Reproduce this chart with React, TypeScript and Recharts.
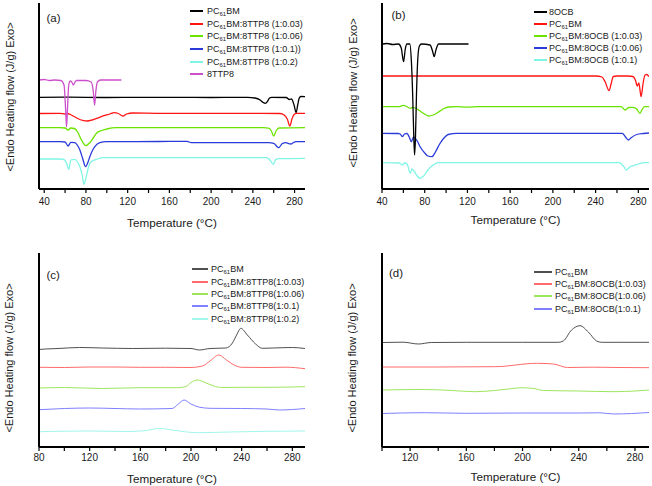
import React from 'react';
import { LineChart, Line, XAxis, YAxis, Legend } from 'recharts';

type Pt = [number, number];

const FONT = '"Liberation Sans", Arial, sans-serif';

// x ticks (every 20 °C, labels only on the 40 °C steps)
const ticksA = [40, 60, 80, 100, 120, 140, 160, 180, 200, 220, 240, 260, 280];
const labelsA = [40, 80, 120, 160, 200, 240, 280];
const ticksC = [80, 100, 120, 140, 160, 180, 200, 220, 240, 260, 280];
const labelsC = [80, 120, 160, 200, 240, 280];
const ticksD = [100, 120, 140, 160, 180, 200, 220, 240, 260, 280];
const labelsD = [120, 160, 200, 240, 280];

// (a) PC61BM : 8TTP8 heating scans, offset traces (arb. units)
const a8ttp8: Pt[] = [[35, 109], [40, 109.5], [45, 108.5], [50, 109], [56, 108.5], [59, 104], [60.5, 80], [61.4, 62], [62.3, 80], [63.5, 104], [65, 108], [67, 106], [68, 104], [69.5, 107], [71, 108.5], [80, 108.5], [85, 107], [87, 98], [88.3, 84], [89.5, 98], [91, 107], [94, 109], [114, 109]];
const aPcbm: Pt[] = [[35, 91.7], [60, 91.8], [100, 91.5], [150, 91.7], [200, 91.5], [235, 91.7], [242, 91], [247, 89], [250, 86.5], [252, 85.7], [254, 87.5], [256, 91], [258, 91.7], [272, 91.5], [275, 89.5], [277, 90], [279.5, 84], [281.5, 76.3], [283, 84], [284.5, 91], [286, 92.5], [290, 92.3]];
const aTtp003: Pt[] = [[35, 75.5], [55, 75.7], [60, 75], [62, 75.5], [66, 74], [72, 70.5], [78, 68.3], [81, 68], [86, 69], [93, 71.7], [99, 73.8], [103, 75], [107, 76.3], [111, 75.5], [115.5, 73], [119, 75], [125, 76], [150, 75.7], [200, 75.7], [250, 75.7], [266, 75.5], [270, 74], [273, 70], [275.5, 63], [277.5, 70], [279.5, 74.5], [282, 75.7], [290, 75.7]];
const aTtp006: Pt[] = [[35, 61.3], [55, 61.3], [60, 61], [62.9, 59], [65.5, 61], [69, 60.5], [72, 57], [75.7, 49], [79.9, 43.3], [83.7, 46.3], [87, 51], [90.1, 55.7], [95, 58.5], [100, 60], [109, 61.3], [150, 61.3], [200, 61.3], [250, 61.3], [255, 60.8], [257.5, 58.5], [260, 53], [262.5, 58.5], [265, 61], [290, 61.3]];
const aTtp01: Pt[] = [[35, 47.3], [55, 47.3], [60, 47], [62.9, 43], [65.5, 46.7], [69.4, 46.3], [72, 43.5], [74.2, 39], [77, 30], [79.6, 22.3], [82, 27], [83.7, 32.3], [86, 38], [88.5, 42.3], [93.3, 46.3], [99.7, 47.3], [150, 47.5], [177, 47.7], [181, 46.3], [220, 46.3], [255, 46.3], [260, 45.7], [264.7, 41.3], [268.5, 45.7], [271.7, 46.3], [274, 45.5], [276.5, 45], [279, 46.5], [281.3, 47.3], [290, 47.3]];
const aTtp02: Pt[] = [[35, 30], [55, 30], [59, 29.5], [61.4, 25.7], [63.6, 19.7], [65.5, 29], [69.4, 29.7], [72, 27], [74.2, 22.3], [76.7, 12.3], [78, 4.7], [79.9, 10.7], [82, 20], [83.7, 25.7], [87, 28.5], [90.1, 29.7], [96.5, 31.3], [150, 31.3], [200, 31.3], [252.6, 31.3], [256.4, 29], [259.6, 24.7], [262.1, 29.7], [265.3, 30.3], [290, 30.7]];

// (b) PC61BM : 8OCB
const b8ocb: Pt[] = [[40, 145], [45, 145.5], [50, 144.5], [55.5, 145], [58, 141], [60.2, 127.3], [61.8, 140], [63.4, 145], [66, 145], [67.5, 128], [68.7, 95], [69.7, 55], [70.5, 34], [71.3, 50], [72.3, 95], [73.5, 130], [75, 143], [77, 145], [85, 144], [87.3, 138], [88.9, 132.3], [90.5, 139], [93, 145], [121, 145]];
const bPcbm: Pt[] = [[40, 113], [100, 113], [150, 113], [200, 113], [240, 113], [246, 112], [249, 107], [252.6, 98.3], [254.5, 105], [256.6, 112.5], [260, 113], [270, 113], [275, 112.5], [277.5, 108], [279, 103], [280.5, 106], [282.6, 92.3], [284.5, 106], [286.3, 114], [288, 114.5], [290, 112.5]];
const bOcb003: Pt[] = [[40, 82.3], [55.5, 82.3], [58, 83], [60.2, 83.7], [63, 82.5], [66.5, 80.7], [68.5, 81.5], [71, 81], [75, 78.5], [79, 75.5], [83.6, 73], [88, 74], [93, 77], [98, 80.5], [102.3, 82], [110, 82.3], [120, 81.8], [130, 82.3], [200, 82.3], [264, 82.3], [267.6, 79], [271, 81.5], [275, 81.7], [278.5, 80], [281.5, 75.7], [283.5, 79.5], [286, 82.3], [290, 82.3]];
const bOcb006: Pt[] = [[40, 55.7], [55, 55.5], [57, 55], [59.3, 52.3], [61, 55], [63.4, 55.5], [65.5, 52], [67.5, 47.3], [69.5, 52], [71.5, 50], [73, 48], [75.8, 42], [80, 36], [83, 33], [86.8, 32.3], [90, 37], [94, 45], [98, 51], [102, 54.5], [110, 55.7], [200, 55.7], [265, 55.7], [268, 52], [270.7, 49], [273, 51], [278.5, 54.5], [285, 55.5], [290, 56]];
const bOcb01: Pt[] = [[40, 26.3], [56, 26], [59.3, 24], [61, 26], [63.5, 25], [66.5, 15.7], [68, 20], [70, 18], [73, 13], [75.8, 10.7], [79, 13], [83, 19], [88, 24], [93, 26.3], [150, 26.3], [262, 26.3], [266, 23], [268.8, 19], [272, 22], [276, 23.5], [280, 25], [286, 26.3], [290, 26.3]];

// (c) PC61BM : 8TTP8, cooling
const cPcbm: Pt[] = [[80, 97.5], [85, 98], [95, 98.5], [112, 99.5], [130, 99], [154, 98.5], [180, 98.8], [200, 98.5], [206.5, 97], [215, 98.5], [227.5, 99], [232.7, 104], [236, 112], [239.3, 118.7], [244.5, 112], [251, 103], [256.3, 98.7], [265, 99], [280, 99.5], [290, 98.5]];
const cTtp003: Pt[] = [[80, 79.7], [100, 79.5], [120, 80], [140, 80], [160, 79.7], [180, 79.7], [200, 79.5], [209, 81], [215, 86], [222, 92], [228, 87], [234, 82], [240, 79.7], [260, 79.5], [275, 79.8], [290, 78.3]];
const cTtp006: Pt[] = [[80, 59], [100, 59.5], [130, 58.5], [160, 59.3], [190, 59.3], [196, 60.5], [200, 64.5], [205, 67], [212, 64], [218, 61], [224, 59.5], [240, 59.7], [260, 59.7], [290, 60.3]];
const cTtp01: Pt[] = [[80, 37.3], [100, 38.5], [120, 39], [140, 38.5], [160, 38], [185, 38.5], [190, 43], [194.5, 47], [200, 43], [206, 40], [215, 38.7], [240, 38.5], [260, 38], [270, 37], [290, 38.5]];
const cTtp02: Pt[] = [[80, 13.5], [81, 15.3], [100, 15.8], [120, 16], [150, 15.5], [165, 16.5], [175, 18.7], [185, 17], [195, 15.3], [205, 14.3], [230, 15], [260, 15.7], [290, 16]];

// (d) PC61BM : 8OCB, cooling
const dPcbm: Pt[] = [[100, 104.5], [115, 104.8], [126, 103], [135, 104.5], [160, 104.7], [200, 104.7], [225.5, 104.7], [229, 106], [234.9, 117], [240.9, 121.3], [246.8, 115], [252.7, 106], [256.3, 104.7], [270, 104.7], [290, 104.7]];
const dOcb003: Pt[] = [[100, 80], [140, 80], [180, 80.3], [188, 80.8], [195, 82], [210, 83.7], [222, 83], [232, 79.5], [250, 79.8], [270, 79.5], [290, 79.3]];
const dOcb006: Pt[] = [[100, 57], [130, 57.5], [150, 56.5], [166, 55.3], [180, 56.5], [190, 58], [199, 59.3], [208, 58.5], [215, 56.5], [240, 56], [265, 55.3], [280, 56], [290, 57]];
const dOcb01: Pt[] = [[100, 33.5], [130, 34.3], [160, 33.7], [200, 34], [240, 34], [255, 34.2], [265, 33], [290, 34.5]];

interface Series {
  label: string;
  color: string;
  data: Pt[];
}

interface PanelProps {
  left: number;
  top: number;
  width: number;
  height: number;
  marginTop: number;
  marginRight: number;
  yAxisWidth: number;
  xAxisHeight: number;
  xDomain: [number, number];
  ticks: number[];
  labels: number[];
  yMax: number;
  series: Series[];
  legend: Series[];
  legendBox: { left: number; top: number; line: number; gap: number; row: number };
  tag: string;
  tagPos: { left: number; top: number };
  yLabelX: number;
  yLabelDy: number;
  xLabelDy: number;
  tickMargin: number;
  strokeWidth: number;
}

// "PC61BM..." -> PC with subscript 61
function renderName(label: string) {
  if (!label.startsWith('PC61BM')) return label;
  return (
    <>
      PC<span style={{ fontSize: 6, position: 'relative', top: 2 }}>61</span>
      {label.slice(4)}
    </>
  );
}

function Panel(p: PanelProps) {
  const plotW = p.width - p.yAxisWidth - p.marginRight;
  const plotH = p.height - p.marginTop - p.xAxisHeight;
  const frame = { stroke: '#000', strokeWidth: 2 };

  const yTitle = () => {
    const cy = p.marginTop + plotH / 2 + p.yLabelDy;
    return (
      <text
        x={p.yLabelX}
        y={cy}
        transform={`rotate(-90, ${p.yLabelX}, ${cy})`}
        textAnchor="middle"
        dominantBaseline="central"
        fontFamily={FONT}
        fontSize={11}
        fill="#1a1a1a"
      >
        {'<Endo Heating flow (J/g) Exo>'}
      </text>
    );
  };

  const xTitle = () => (
    <text
      x={p.yAxisWidth + plotW / 2}
      y={p.marginTop + plotH + p.xLabelDy}
      textAnchor="middle"
      dominantBaseline="central"
      fontFamily={FONT}
      fontSize={11.7}
      fill="#1a1a1a"
    >
      Temperature (°C)
    </text>
  );

  const legendContent = () => (
    <div style={{ fontFamily: FONT, fontSize: 9, color: '#1a1a1a' }}>
      {p.legend.map((s) => (
        <div
          key={s.label}
          style={{ display: 'flex', alignItems: 'center', height: p.legendBox.row, whiteSpace: 'nowrap' }}
        >
          <div
            style={{
              width: p.legendBox.line,
              height: 2,
              background: s.color,
              marginRight: p.legendBox.gap,
              flexShrink: 0,
            }}
          />
          <span>{renderName(s.label)}</span>
        </div>
      ))}
    </div>
  );

  return (
    <div style={{ position: 'absolute', left: p.left, top: p.top, width: p.width, height: p.height }}>
      <LineChart
        width={p.width}
        height={p.height}
        margin={{ top: p.marginTop, right: p.marginRight, left: 0, bottom: 0 }}
      >
        <XAxis
          dataKey="t"
          type="number"
          domain={p.xDomain}
          allowDataOverflow
          ticks={p.ticks}
          interval={0}
          height={p.xAxisHeight}
          axisLine={frame}
          tickLine={{ stroke: '#000', strokeWidth: 1.2 }}
          tickSize={4}
          tickMargin={p.tickMargin}
          tick={{ fontFamily: FONT, fontSize: 10, fill: '#1a1a1a' }}
          tickFormatter={(v: number) => (p.labels.includes(v) ? String(v) : '')}
          label={xTitle}
        />
        <XAxis
          xAxisId="top"
          orientation="top"
          type="number"
          domain={p.xDomain}
          height={0}
          tick={false}
          tickLine={false}
          axisLine={frame}
        />
        <YAxis
          type="number"
          domain={[0, p.yMax]}
          allowDataOverflow
          width={p.yAxisWidth}
          tick={false}
          tickLine={false}
          axisLine={frame}
          label={yTitle}
        />
        <YAxis
          yAxisId="right"
          orientation="right"
          type="number"
          domain={[0, 1]}
          width={0}
          tick={false}
          tickLine={false}
          axisLine={frame}
        />
        {p.series.map((s) => (
          <Line
            key={s.label}
            name={s.label}
            data={s.data.map(([t, v]) => ({ t, v }))}
            dataKey="v"
            type="monotone"
            stroke={s.color}
            strokeWidth={p.strokeWidth}
            dot={false}
            activeDot={false}
            isAnimationActive={false}
          />
        ))}
        <Legend
          layout="vertical"
          align="center"
          verticalAlign="middle"
          content={legendContent}
          wrapperStyle={{ left: p.legendBox.left, top: p.legendBox.top, width: 'auto', height: 'auto' }}
        />
      </LineChart>
      <span
        style={{
          position: 'absolute',
          left: p.tagPos.left,
          top: p.tagPos.top,
          fontFamily: FONT,
          fontSize: 11.5,
          lineHeight: '12px',
          color: '#1a1a1a',
        }}
      >
        {p.tag}
      </span>
    </div>
  );
}

const seriesA = {
  pcbm: { label: 'PC61BM', color: '#000000', data: aPcbm },
  r003: { label: 'PC61BM:8TTP8 (1:0.03)', color: '#ff1414', data: aTtp003 },
  r006: { label: 'PC61BM:8TTP8 (1:0.06)', color: '#6ae300', data: aTtp006 },
  r01: { label: 'PC61BM:8TTP8 (1:0.1))', color: '#2b3bd9', data: aTtp01 },
  r02: { label: 'PC61BM:8TTP8 (1:0.2)', color: '#80f5e6', data: aTtp02 },
  pure: { label: '8TTP8', color: '#cc50cc', data: a8ttp8 },
};

const seriesB = {
  pure: { label: '8OCB', color: '#000000', data: b8ocb },
  pcbm: { label: 'PC61BM', color: '#ff1414', data: bPcbm },
  r003: { label: 'PC61BM:8OCB (1:0.03)', color: '#6ae300', data: bOcb003 },
  r006: { label: 'PC61BM:8OCB (1:0.06)', color: '#2b3bd9', data: bOcb006 },
  r01: { label: 'PC61BM:8OCB (1:0.1)', color: '#80f5e6', data: bOcb01 },
};

const seriesC = [
  { label: 'PC61BM', color: '#505050', data: cPcbm },
  { label: 'PC61BM:8TTP8(1:0.03)', color: '#ff6a6a', data: cTtp003 },
  { label: 'PC61BM:8TTP8(1:0.06)', color: '#9de65c', data: cTtp006 },
  { label: 'PC61BM:8TTP8(1:0.1)', color: '#7f7fff', data: cTtp01 },
  { label: 'PC61BM:8TTP8(1:0.2)', color: '#a2f6ec', data: cTtp02 },
];

const seriesD = [
  { label: 'PC61BM', color: '#505050', data: dPcbm },
  { label: 'PC61BM:8OCB(1:0.03)', color: '#ff6a6a', data: dOcb003 },
  { label: 'PC61BM:8OCB(1:0.06)', color: '#9de65c', data: dOcb006 },
  { label: 'PC61BM:8OCB(1:0.1)', color: '#7f7fff', data: dOcb01 },
];

export default function App() {
  const A = seriesA;
  const B = seriesB;
  return (
    <div style={{ position: 'absolute', left: 0, top: 0, width: 652, height: 486, background: '#fff' }}>
      <Panel
        left={0} top={0} width={326} height={240}
        marginTop={3} marginRight={21} yAxisWidth={39} xAxisHeight={51}
        xDomain={[35, 290]} ticks={ticksA} labels={labelsA} yMax={186}
        series={[A.pcbm, A.r003, A.r006, A.r01, A.r02, A.pure]}
        legend={[A.pcbm, A.r003, A.r006, A.r01, A.r02, A.pure]}
        legendBox={{ left: 190, top: 5, line: 13, gap: 4, row: 12.6 }}
        tag="(a)" tagPos={{ left: 46.5, top: 12 }}
        yLabelX={10} yLabelDy={1} xLabelDy={33.5} tickMargin={5} strokeWidth={1.3}
      />
      <Panel
        left={326} top={0} width={326} height={240}
        marginTop={3} marginRight={3} yAxisWidth={56} xAxisHeight={51}
        xDomain={[40, 290]} ticks={ticksA} labels={labelsA} yMax={186}
        series={[B.pcbm, B.r003, B.r006, B.r01, B.pure]}
        legend={[B.pure, B.pcbm, B.r003, B.r006, B.r01]}
        legendBox={{ left: 208, top: 6, line: 13, gap: 2, row: 11.9 }}
        tag="(b)" tagPos={{ left: 65.5, top: 9 }}
        yLabelX={27.3} yLabelDy={-3} xLabelDy={30.5} tickMargin={5} strokeWidth={1.3}
      />
      <Panel
        left={0} top={240} width={326} height={246}
        marginTop={13} marginRight={21} yAxisWidth={39} xAxisHeight={39}
        xDomain={[80, 290]} ticks={ticksC} labels={labelsC} yMax={194}
        series={seriesC} legend={seriesC}
        legendBox={{ left: 192, top: 23, line: 16, gap: 3, row: 12.35 }}
        tag="(c)" tagPos={{ left: 46.5, top: 29 }}
        yLabelX={9.3} yLabelDy={8} xLabelDy={31.3} tickMargin={3} strokeWidth={1}
      />
      <Panel
        left={326} top={240} width={326} height={246}
        marginTop={13} marginRight={3} yAxisWidth={56} xAxisHeight={39}
        xDomain={[100, 290]} ticks={ticksD} labels={labelsD} yMax={194}
        series={seriesD} legend={seriesD}
        legendBox={{ left: 208, top: 26, line: 18, gap: 3, row: 12.2 }}
        tag="(d)" tagPos={{ left: 63, top: 27 }}
        yLabelX={25.7} yLabelDy={8} xLabelDy={29.7} tickMargin={3} strokeWidth={1}
      />
    </div>
  );
}
